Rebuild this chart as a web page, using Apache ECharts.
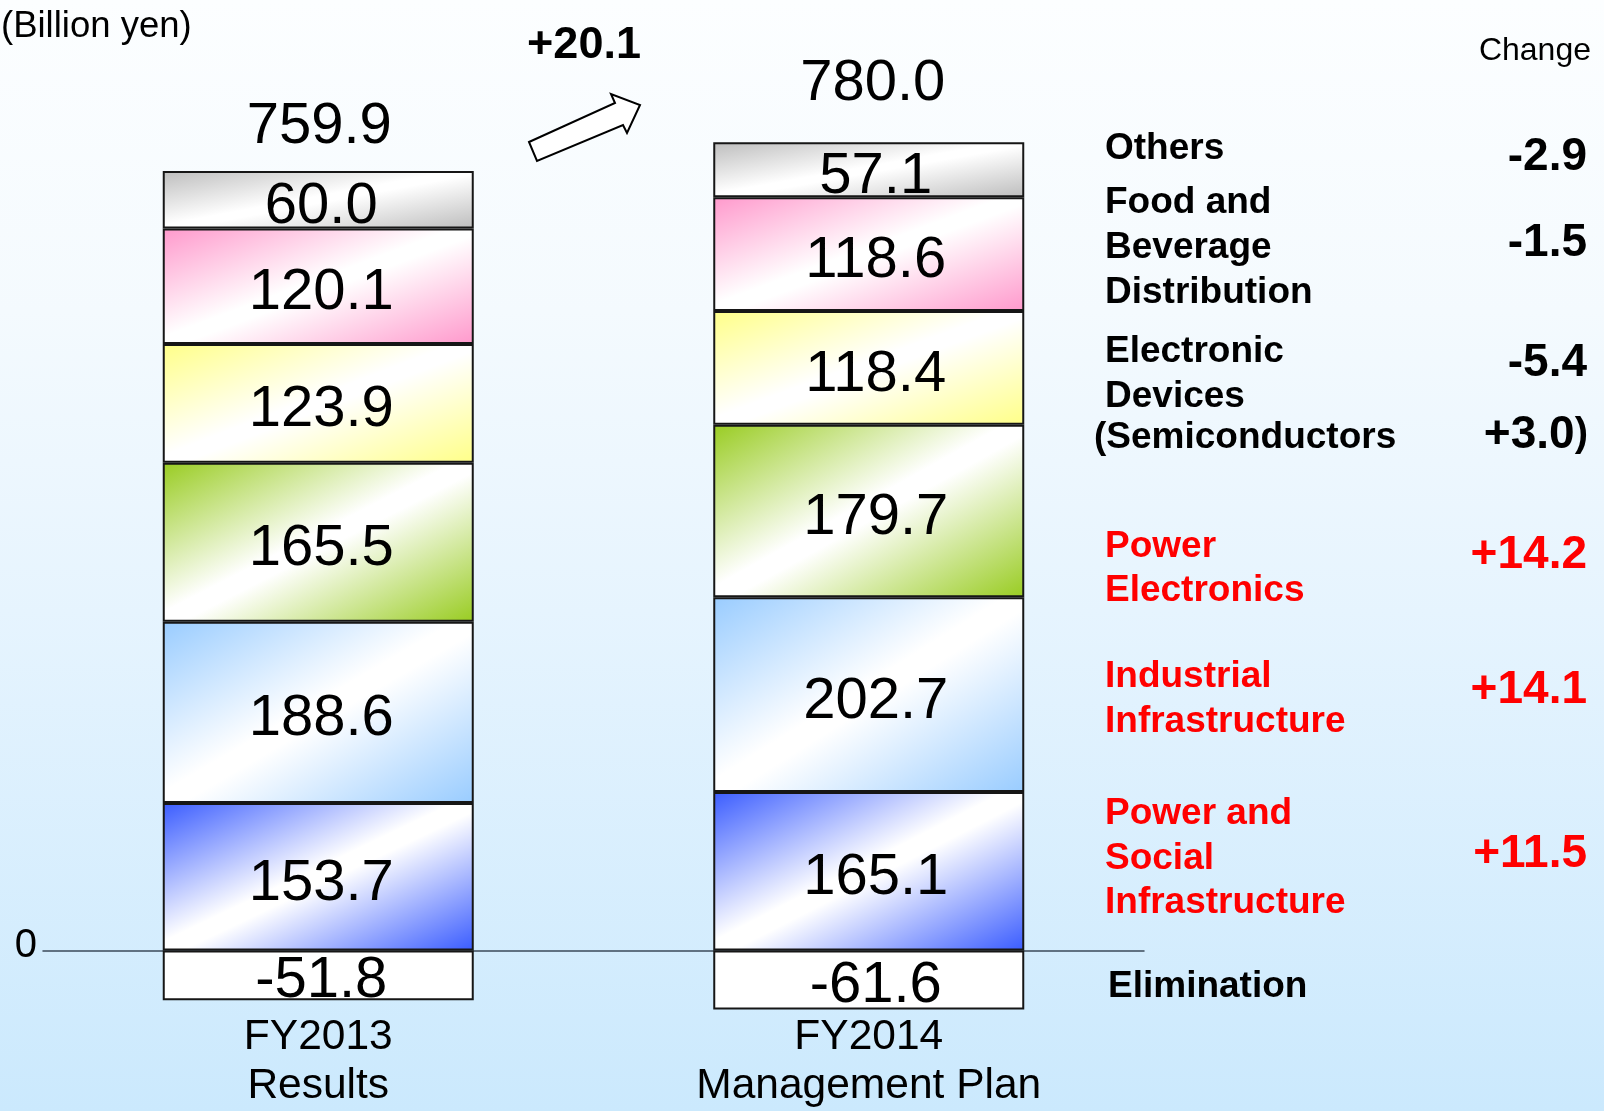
<!DOCTYPE html>
<html><head><meta charset="utf-8">
<script src="https://cdn.jsdelivr.net/npm/echarts@6/dist/echarts.min.js"></script>
<style>
html,body{margin:0;padding:0;}
#c{width:1604px;height:1111px;background:linear-gradient(to bottom,#fcfeff 0%,#f4fafe 28%,#e6f4fe 55%,#cbe9fd 100%);}
</style>
</head><body><div id="c"></div>
<script>
// ---------- data ----------
const categories = ['FY2013\nResults', 'FY2014\nManagement Plan'];
const segmentNames = ['Power and\nSocial\nInfrastructure', 'Industrial\nInfrastructure', 'Power\nElectronics', 'Electronic\nDevices', 'Food and\nBeverage\nDistribution', 'Others'];
const semiconductorNote = '(Semiconductors';
const eliminationName = 'Elimination';
const powerSocial = [153.7, 165.1];
const industrial = [188.6, 202.7];
const powerElectronics = [165.5, 179.7];
const electronicDevices = [123.9, 118.4];
const foodBeverage = [120.1, 118.6];
const others = [60.0, 57.1];
const elimination = [-51.8, -61.6];
const totals = [759.9, 780.0];
const totalChange = '+20.1';
const changeLabels = ['+11.5', '+14.1', '+14.2', '-5.4', '-1.5', '-2.9'];
const semiconductorChange = '+3.0';
const yTickLabels = ['0'];

// ---------- layout / style ----------
const FONT = '"Liberation Sans", Arial, sans-serif';
const Y_MIN = -62, Y_MAX = 868, Y_INT = 62;
const PX = 0.962;             // pixels per unit
const ZERO_Y = 952;
const GRID_TOP = ZERO_Y - Y_MAX * PX;
const GRID_H = (Y_MAX - Y_MIN) * PX;
const BAR_W = 311;
const LABEL_DX = [3, 7];      // per-column horizontal nudge of value labels

function grad(color, value) {
  const h = Math.abs(value) * PX, w = BAR_W, d = h * h + w * w;
  return new echarts.graphic.LinearGradient(0, 0, 2 * h * h / d, 2 * w * w / d, [
    { offset: 0, color: color },
    { offset: 0.47, color: '#ffffff' },
    { offset: 0.53, color: '#ffffff' },
    { offset: 1, color: color }
  ]);
}

const segs = [
  { name: 'Power and Social Infrastructure', values: powerSocial, color: '#3a5cff' },
  { name: 'Industrial Infrastructure', values: industrial, color: '#99ccff' },
  { name: 'Power Electronics', values: powerElectronics, color: '#99cc22' },
  { name: 'Electronic Devices', values: electronicDevices, color: '#ffff88' },
  { name: 'Food and Beverage Distribution', values: foodBeverage, color: '#ff99cc' },
  { name: 'Others', values: others, color: '#bdbdbd' }
];

const labelStyle = { show: true, position: 'inside', fontSize: 58, color: '#000', fontFamily: FONT,
  formatter: p => Number(p.value).toFixed(1) };

const series = segs.map(s => ({
  type: 'bar', name: s.name, stack: 'total', barWidth: BAR_W,
  xAxisIndex: 0, yAxisIndex: 0,
  itemStyle: { borderColor: '#161616', borderWidth: 2 },
  label: labelStyle,
  data: s.values.map((v, i) => ({ value: v, itemStyle: { color: grad(s.color, v) },
    label: { offset: [LABEL_DX[i], 7] } }))
}));
series.push({
  type: 'bar', name: 'Elimination', stack: 'total', barWidth: BAR_W,
  xAxisIndex: 0, yAxisIndex: 0,
  itemStyle: { color: '#ffffff', borderColor: '#161616', borderWidth: 2 },
  label: labelStyle,
  data: elimination.map((v, i) => ({ value: v, label: { offset: [LABEL_DX[i], 6] } }))
});
const positiveTops = categories.map((c, i) => segs.reduce((a, s) => a + s.values[i], 0));
const totalOffsets = [[1, -44], [4, -58]];
series.push({
  type: 'scatter', symbolSize: 0, silent: true, z: 10,
  xAxisIndex: 0, yAxisIndex: 0,
  itemStyle: { opacity: 1 },
  data: positiveTops.map((v, i) => ({ value: v, label: { offset: totalOffsets[i] } })),
  label: { show: true, position: 'inside', fontSize: 58, color: '#000', opacity: 1, fontFamily: FONT,
    formatter: p => totals[p.dataIndex].toFixed(1) }
});

// right-hand annotation texts
const red = '#ff0000';
const nameTops = [792, 654, 525, 329, 180, 127];
const nameLH = [44.5, 45, 44, 45, 45, 44];
const valueYs = [854, 690, 555, 363, 243, 157];
const graphics = [];
segmentNames.forEach((n, i) => {
  const col = i < 3 ? red : '#000';
  graphics.push({ type: 'text', x: 1105, y: nameTops[i], silent: true,
    style: { text: n, fontSize: 37, fontWeight: 'bold', fontFamily: FONT, fill: col,
      align: 'left', verticalAlign: 'top', lineHeight: nameLH[i] } });
  graphics.push({ type: 'text', x: 1587, y: valueYs[i], silent: true,
    style: { text: changeLabels[i], fontSize: 46, fontWeight: 'bold', fontFamily: FONT, fill: col,
      align: 'right', verticalAlign: 'middle' } });
});
graphics.push({ type: 'text', x: 1094, y: 438, silent: true,
  style: { text: semiconductorNote, fontSize: 37, fontWeight: 'bold', fontFamily: FONT, fill: '#000',
    align: 'left', verticalAlign: 'middle' } });
graphics.push({ type: 'text', x: 1588, y: 435, silent: true,
  style: { text: '{v|' + semiconductorChange + '}{p|)}', align: 'right', verticalAlign: 'middle',
    rich: { v: { fontSize: 46, fontWeight: 'bold', fontFamily: FONT, fill: '#000', color: '#000' },
            p: { fontSize: 40, fontWeight: 'bold', fontFamily: FONT, fill: '#000', color: '#000' } } } });
graphics.push({ type: 'text', x: 1108, y: 987, silent: true,
  style: { text: eliminationName, fontSize: 37, fontWeight: 'bold', fontFamily: FONT, fill: '#000',
    align: 'left', verticalAlign: 'middle' } });
graphics.push({ type: 'text', x: 1591, y: 51, silent: true,
  style: { text: 'Change', fontSize: 32, fontFamily: FONT, fill: '#000', align: 'right', verticalAlign: 'middle' } });
graphics.push({ type: 'text', x: 1, y: 27, silent: true,
  style: { text: '(Billion yen)', fontSize: 36.5, fontFamily: FONT, fill: '#000', align: 'left', verticalAlign: 'middle' } });
graphics.push({ type: 'text', x: 584, y: 46, silent: true,
  style: { text: totalChange, fontSize: 45, fontWeight: 'bold', fontFamily: FONT, fill: '#000', align: 'center', verticalAlign: 'middle' } });
graphics.push({ type: 'polygon', silent: true,
  shape: { points: [[529, 142], [615, 103], [611, 94], [640, 105], [627, 133], [623, 125], [537, 161]] },
  style: { fill: '#ffffff', stroke: '#000', lineWidth: 2 } });

const chart = echarts.init(document.getElementById('c'), null, { renderer: 'canvas' });
chart.setOption({
  animation: false,
  backgroundColor: 'transparent',
  grid: { left: 43, width: 1101, top: GRID_TOP, height: GRID_H, containLabel: false },
  xAxis: [
    { type: 'category', data: categories, position: 'bottom',
      axisLine: { show: true, onZero: true, lineStyle: { color: '#3b4a5a', width: 1.5 } },
      axisTick: { show: false }, axisLabel: { show: false }, splitLine: { show: false } },
    { type: 'category', data: categories, position: 'bottom',
      axisLine: { show: false, onZero: false }, axisTick: { show: false }, splitLine: { show: false },
      axisLabel: { show: true, fontSize: 42.5, lineHeight: 49, color: '#000', fontFamily: FONT, margin: 3 } }
  ],
  yAxis: {
    type: 'value', min: Y_MIN, max: Y_MAX, interval: Y_INT,
    axisLine: { show: false }, axisTick: { show: false }, splitLine: { show: false },
    axisLabel: { show: true, fontSize: 40, color: '#000', fontFamily: FONT, margin: 6,
      verticalAlign: 'bottom', lineHeight: 8,
      formatter: v => (v === 0 ? yTickLabels[0] : '') }
  },
  series: series,
  graphic: graphics
});
</script>
</body></html>
